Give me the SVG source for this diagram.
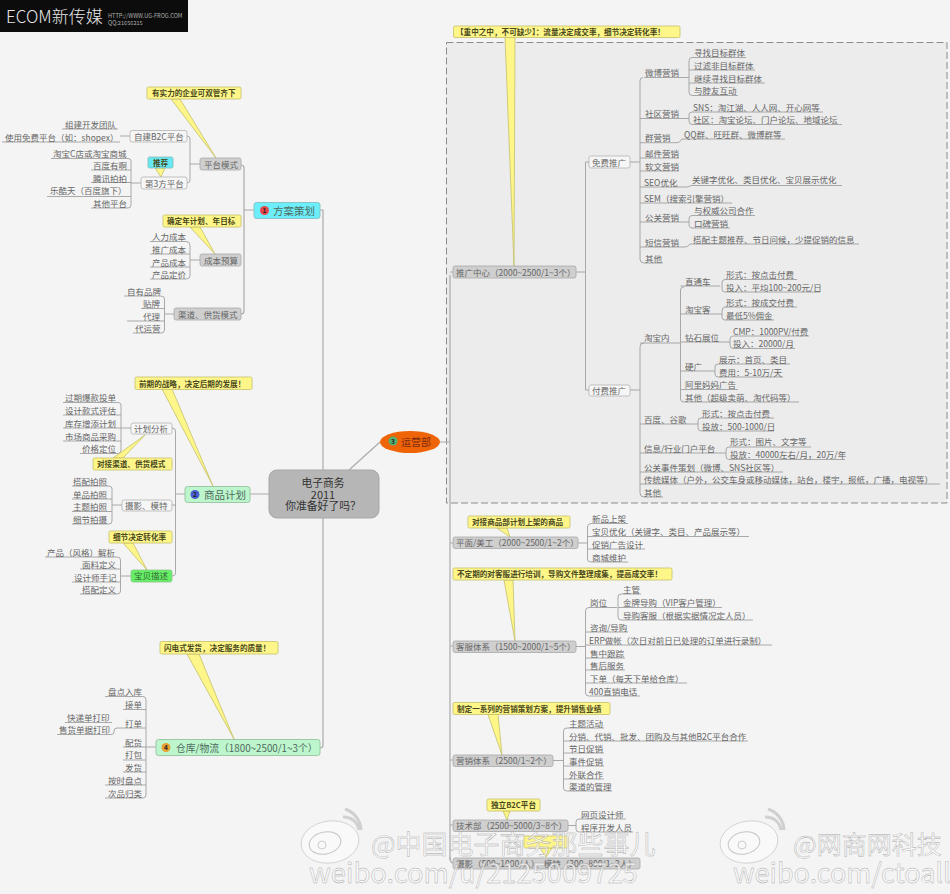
<svg xmlns="http://www.w3.org/2000/svg" width="950" height="894" viewBox="0 0 950 894">
<style>
text{font-family:"Noto Sans CJK SC","Liberation Sans",sans-serif;fill:#666;font-size:8.5px}
.c text,text.c{font-size:7.6px;font-weight:700;fill:#4a4a20}
.co{fill:#fff68a;stroke:#c4c06a;stroke-width:.8}
.g{fill:#cfcfcf;stroke:#a8a8a8;stroke-width:.8}
.w{fill:#f6f6f6;stroke:#b4b4b4;stroke-width:.8}
.t{font-size:10.5px;fill:#4f6a60}
#links path{fill:none;stroke:#a0a0a0;stroke-width:.9}
#links path.s{stroke:#aaa;stroke-width:1.2}
.wm{fill:#fafafa;fill-opacity:.7;stroke:#a8a8a8;stroke-width:.4;font-family:"Noto Sans CJK SC","Liberation Sans",sans-serif}
.lg{fill:#f9f9f9;stroke:#c4c4c4;stroke-width:.7}
.num{font-size:6.5px;font-weight:700;fill:#222;text-anchor:middle}
</style>
<rect width="950" height="894" fill="#f4f4f4"/>
<g id="banner"><rect width="188" height="32" fill="#0c0c0c"/>
<text x="6" y="23" style="font-size:17px;fill:#e8e8e8;font-weight:300">ECOM新传媒</text>
<text x="108" y="18" style="font-size:5.6px;fill:#b0b0b0">HTTP://WWW.UG-FROG.COM</text>
<text x="108" y="25" style="font-size:5.6px;fill:#b0b0b0">QQ:21656215</text></g>
<rect id="boundary" x="446.5" y="42.5" width="500.5" height="460.5" fill="#ececec" stroke="#8c8c8c" stroke-width="1" stroke-dasharray="7 3"/>
<g id="links">
<path class="s" d="M241 165Q244 165 244 168V311Q244 314 241 314M244 210H254"/>
<path class="s" d="M320 210H323V745Q323 748 320 748M250 494H269M349 470L380 442"/>
<path class="s" d="M440 442H450M450 275V860"/>
<path d="M120 136H130M187 136Q190 136 190 139V180Q190 183 187 183M190 164H200M131 183H141"/>
<path d="M62 129H118M2 142H120M51 158.500H128Q131 158.500 131 161V205Q131 208 128 208H91M91 170H131M91 182.500H131M47 196.500H131"/>
<path d="M190 260H200M150 241.500H186Q190 241.500 190 245V276Q190 279 186 279H150M150 254H190M150 267H190"/>
<path d="M164 314H174M124 296H161Q164.500 296 164.500 299V330Q164.500 333 161 333H133M141 308.500H164.500M127 321H164.500"/>
<path d="M175.500 494H185M172 428Q175.500 428 175.500 431V573Q175.500 576 172 576M172 505H175.500"/>
<path d="M121 428H131M63 402.500H118Q121 402.500 121 405V450Q121 453.500 118 453.500H80M63 415H121M63 428H121M63 441H121"/>
<path d="M112 505H122M72 486H109Q112 486 112 489V521Q112 524 109 524H72M72 499H112M72 511.500H112"/>
<path d="M120.500 576H131M45 557H117Q120.500 557 120.500 560V591Q120.500 594 117 594H80M80 569H120.500M72 582H120.500"/>
<path d="M146 747H156M105 696.500H143Q146 696.500 146 700V795Q146 798 143 798H105M123 709.500H146M123 728H146M123 747H146M123 760H146M123 772H146M105 785H146"/>
<path d="M65 722.500H112M57 734.500H111Q114 734.500 114 732V731Q114 728 117 728H123"/>
<path d="M576 272H585.500M589 162H585.500V390H589"/>
<path d="M630 162H640M630 390H640M644 77.500H689M643 77.500Q640 77.500 640 81V259Q640 263 644 263H663M640 118.500H689M640 142.700H677Q680 142.700 682 139H785M640 158H679M640 171H679M640 187H687Q689 187 691 185.500H842M640 203H732M640 222H689M640 247H685Q688 247 690 244H859"/>
<path d="M692 57.500H746M692 57.500Q689 57.500 689 61V92Q689 95.500 692 95.500H738M689 70H755M689 83H765M692 112Q689 112 689 115V121Q689 124.500 692 124.500H842M692 112H823M692 215.500Q689 215.500 689 219V225Q689 228 692 228H730M692 215.500H755"/>
<path d="M644 343Q640 343 640 347V493Q640 497 644 497H663M640 343H680M640 424H698M640 453H726M640 472H783M640 484H940"/>
<path d="M684 287Q680.500 287 680.500 290V399Q680.500 402 684 402H799M680.500 286H720M680.500 314H722M680.500 342H730M680.500 371H715M680.500 389.500H738"/>
<path d="M725 279.500H797M725 279.500Q722 279.500 722 283V289Q722 292 725 292H820M725 307H797M725 307Q722 307 722 311V317Q722 320 725 320H774M733 336H809M733 336Q730 336 730 339V345Q730 348.500 733 348.500H795M718 364H790M718 364Q715 364 715 367V374Q715 377 718 377H783M701 418H774M701 418Q698 418 698 421V428Q698 431 701 431H774M729 447H811M729 447Q726 447 726 450V456Q726 459.500 729 459.500H845"/>
<path d="M578 543H587.500M591 523.500H628M591 523.500Q587.500 523.500 587.500 527V559Q587.500 562 591 562H628M587.500 536.500H749M587.500 549H645"/>
<path d="M576 646.500H585.500M589 607.500H617M589 607.500Q585.500 607.500 585.500 611V693Q585.500 696 589 696H640M585.500 632H628M585.500 645H772M585.500 658H625M585.500 670H625M585.500 683H687"/>
<path d="M621 594H641M621 594Q618 594 618 597V617Q618 620 621 620H753M618 607.500H722"/>
<path d="M553 760.500H563.500M567 728H604M567 728Q563.500 728 563.500 731V788Q563.500 791 567 791H612M563.500 741H748M563.500 753H604M563.500 766H604M563.500 779H604"/>
<path d="M568 825.500H576M579 819H626M579 819Q576 819 576 822V829Q576 832 579 832H633"/>
<path class="s" d="M450 272H453M450 543H453M450 646H453M450 760H453M450 825H453M450 857Q450 863 453 863"/>
</g>
<g id="root"><rect x="269" y="470" width="110" height="48" rx="8" fill="#b6b6b6" stroke="#a6a6a6"/>
<text x="323" y="487" text-anchor="middle" style="font-size:10.800px;fill:#333">电子商务</text>
<text x="323" y="498.500" text-anchor="middle" style="font-size:11px;fill:#333">2011</text>
<text x="323" y="510" text-anchor="middle" style="font-size:10.800px;fill:#333">你准备好了吗？</text></g>
<g id="topic1"><rect x="254" y="202.500" width="66" height="16" rx="2.500" fill="#6ceffb" stroke="#88c4c8"/><circle cx="264.500" cy="210.500" r="4.500" fill="#e5484d"/><text class="num" x="264.500" y="213">1</text><text class="t" x="273" y="214.500">方案策划</text></g>
<g id="topic2"><rect x="185" y="486.500" width="65" height="16" rx="2.500" fill="#bdf6cc" stroke="#9cc8a6"/><circle cx="195" cy="494.500" r="4.500" fill="#4a5ed0"/><text class="num" x="195" y="497">2</text><text class="t" x="204" y="498.500">商品计划</text></g>
<g id="topic3"><ellipse cx="410" cy="442" rx="30" ry="11" fill="#f06408"/><circle cx="393" cy="441" r="4.500" fill="#52b070"/><text class="num" x="393" y="443.500">3</text><text x="401" y="446" style="font-size:10px;fill:#7a2a10">运营部</text></g>
<g id="topic4"><rect x="156" y="739.500" width="164" height="16" rx="2.500" fill="#bdf6cc" stroke="#9cc8a6"/><circle cx="166" cy="747.500" r="4.500" fill="#e8a030"/><text class="num" x="166" y="750">4</text><text class="t" x="176" y="751.500" style="font-size:9.800px">仓库/物流（1800~2500/1~3个）</text></g>

<g id="callout1"><path class="co" d="M171 99L216 158L180 99Z"/><rect class="co" x="147" y="87" width="94" height="12" rx="1.500"/><text class="c" x="152" y="96">有实力的企业可双管齐下</text></g>
<g id="callout2"><path class="co" d="M155 168L161 177L165 168Z"/><rect x="148" y="157" width="25" height="11" rx="1.500" fill="#66e9f2" stroke="#88b8b8" stroke-width=".8"/><text class="c" x="153" y="165.500">推荐</text></g>
<g id="callout3"><path class="co" d="M190 227L215 254L200 227Z"/><rect class="co" x="163" y="215" width="78" height="12" rx="1.500"/><text class="c" x="167" y="224">确定年计划、年目标</text></g>
<g id="callout4"><path class="co" d="M162 389L213 486L172 389Z"/><rect class="co" x="135" y="377" width="117" height="12.500" rx="1.500"/><text class="c" x="139" y="386.500">前期的战略，决定后期的发展！</text></g>
<g id="callout5"><path class="co" d="M113 458L145 435L123 458Z"/><rect class="co" x="93" y="458" width="79" height="12" rx="1.500"/><text class="c" x="97" y="467">对接渠道、供货模式</text></g>
<g id="callout6"><path class="co" d="M123 543L147 570L133 543Z"/><rect class="co" x="109" y="531" width="63" height="12" rx="1.500"/><text class="c" x="113" y="540">细节决定转化率</text></g>
<g id="callout7"><path class="co" d="M187 654L234 739L199 654Z"/><rect class="co" x="160" y="641.500" width="118" height="12.500" rx="1.500"/><text class="c" x="164" y="651">闪电式发货，决定服务的质量！</text></g>
<g id="callout8"><path class="co" d="M505 37L514 266L515 37Z"/><rect class="co" x="453.500" y="26" width="226.500" height="11.500" rx="1.500"/><text class="c" x="456" y="34.500">【重中之中，不可缺少】：流量决定成交率，细节决定转化率！</text></g>
<g id="callout9"><path class="co" d="M497 528L510 537L507 528Z"/><rect class="co" x="468" y="516" width="102" height="12" rx="1.500"/><text class="c" x="472" y="525">对接商品部计划上架的商品</text></g>
<g id="callout10"><path class="co" d="M504 580L515 641L513 580Z"/><rect class="co" x="453" y="568" width="219" height="12" rx="1.500"/><text class="c" x="457" y="577">不定期的对客服进行培训，导购文件整理成集，提高成交率！</text></g>
<g id="callout11"><path class="co" d="M488 714.500L502 755L498 714.500Z"/><rect class="co" x="453" y="702.500" width="157" height="12" rx="1.500"/><text class="c" x="457" y="711.500">制定一系列的营销策划方案，提升销售业绩</text></g>
<g id="callout12"><path class="co" d="M503 811L507 820L510 811Z"/><rect class="co" x="487" y="799" width="53" height="12" rx="1.500"/><text class="c" x="491" y="808">独立B2C平台</text></g>
<g id="callout13"><path class="co" d="M540 848L546 857L552 848Z"/><rect class="co" x="524" y="836" width="44" height="12" rx="1.500"/></g>

<g id="branches">
<g id="b1"><rect class="w" x="130" y="130.500" width="57" height="11.500" rx="2"/><text x="134" y="139.500">自建B2C平台</text></g>
<g id="b2"><rect class="g" x="200" y="158" width="41" height="12" rx="2"/><text x="204" y="167.500">平台模式</text></g>
<g id="b3"><rect class="w" x="141" y="177" width="46" height="12" rx="2"/><text x="145" y="186.500">第3方平台</text></g>
<g id="b4"><rect class="g" x="200" y="254" width="41" height="12" rx="2"/><text x="204" y="263.500">成本预算</text></g>
<g id="b5"><rect class="g" x="174" y="308" width="67" height="12" rx="2"/><text x="178" y="317.500">渠道、供货模式</text></g>
<g id="b6"><rect class="w" x="131" y="423" width="41" height="11" rx="2"/><text x="134" y="431.500">计划分析</text></g>
<g id="b7"><rect class="w" x="122" y="500" width="50" height="11" rx="2"/><text x="125" y="508.500">摄影、模特</text></g>
<g id="b8"><rect x="131" y="570" width="41" height="12" rx="2" fill="#66ee66" stroke="#88c888" stroke-width=".8"/><text x="134" y="579" style="fill:#336633">宝贝描述</text></g>
<g id="b9"><rect class="g" x="453" y="266" width="123" height="12" rx="2"/><text x="456" y="275.500">推广中心（2000~2500/1~3个）</text></g>
<g id="b10"><rect class="w" x="589" y="156" width="41" height="12" rx="2"/><text x="592" y="165.500">免费推广</text></g>
<g id="b11"><rect class="w" x="589" y="385" width="41" height="11" rx="2"/><text x="592" y="393.500">付费推广</text></g>
<g id="b12"><rect class="g" x="453" y="537" width="125" height="11.500" rx="2"/><text x="456" y="546">平面/美工（2000~2500/1~2个）</text></g>
<g id="b13"><rect class="g" x="453" y="641" width="123" height="11.500" rx="2"/><text x="456" y="650">客服体系（1500~2000/1~5个）</text></g>
<g id="b14"><rect class="g" x="453" y="755" width="100" height="11.500" rx="2"/><text x="456" y="764">营销体系（2500/1~2个）</text></g>
<g id="b15"><rect class="g" x="453" y="820" width="115" height="11.500" rx="2"/><text x="456" y="829">技术部（2500~5000/3~8个）</text></g>
<g id="b16"><rect class="g" x="453" y="858" width="187" height="11" rx="2"/><text x="456" y="867">摄影（500~1000/人）、模特（300~800/1~2人）</text></g>
</g>
<g id="leaves">
<g id="l1"><text x="65" y="128">组建开发团队</text></g>
<g id="l2"><text x="5" y="140.500">使用免费平台（如：shopex）</text></g>
<g id="l3"><text x="53" y="156.500">淘宝C店或淘宝商城</text></g>
<g id="l4"><text x="93" y="169">百度有啊</text></g>
<g id="l5"><text x="93" y="181.500">腾讯拍拍</text></g>
<g id="l6"><text x="50" y="194">乐酷天（百度旗下）</text></g>
<g id="l7"><text x="93" y="207">其他平台</text></g>
<g id="l8"><text x="152" y="240">人力成本</text></g>
<g id="l9"><text x="152" y="253">推广成本</text></g>
<g id="l10"><text x="152" y="266">产品成本</text></g>
<g id="l11"><text x="152" y="278">产品定价</text></g>
<g id="l12"><text x="127" y="295">自有品牌</text></g>
<g id="l13"><text x="143" y="307">贴牌</text></g>
<g id="l14"><text x="143" y="320">代理</text></g>
<g id="l15"><text x="135" y="332">代运营</text></g>
<g id="l16"><text x="65" y="401">过期爆款投单</text></g>
<g id="l17"><text x="65" y="414">设计款式评估</text></g>
<g id="l18"><text x="65" y="427">库存增添计划</text></g>
<g id="l19"><text x="65" y="439.500">市场商品采购</text></g>
<g id="l20"><text x="82" y="452">价格定位</text></g>
<g id="l21"><text x="73" y="485">搭配拍照</text></g>
<g id="l22"><text x="73" y="498">单品拍照</text></g>
<g id="l23"><text x="73" y="510">主题拍照</text></g>
<g id="l24"><text x="73" y="523">细节拍摄</text></g>
<g id="l25"><text x="47" y="556">产品（风格）解析</text></g>
<g id="l26"><text x="82" y="568">面料定义</text></g>
<g id="l27"><text x="74" y="581">设计师手记</text></g>
<g id="l28"><text x="82" y="593">搭配定义</text></g>
<g id="l29"><text x="108" y="695">盘点入库</text></g>
<g id="l30"><text x="125" y="708">接单</text></g>
<g id="l31"><text x="125" y="727">打单</text></g>
<g id="l32"><text x="125" y="746">配货</text></g>
<g id="l33"><text x="125" y="758">打包</text></g>
<g id="l34"><text x="125" y="771">发货</text></g>
<g id="l35"><text x="108" y="784">按时盘点</text></g>
<g id="l36"><text x="108" y="797">次品归类</text></g>
<g id="l37"><text x="67" y="721">快递单打印</text></g>
<g id="l38"><text x="59" y="733">售货单据打印</text></g>
<g id="l39"><text x="645" y="76">微博营销</text></g>
<g id="l40"><text x="645" y="117">社区营销</text></g>
<g id="l41"><text x="645" y="141">群营销</text></g>
<g id="l42"><text x="645" y="157">邮件营销</text></g>
<g id="l43"><text x="645" y="170">软文营销</text></g>
<g id="l44"><text x="644" y="186">SEO优化</text></g>
<g id="l45"><text x="644" y="202">SEM（搜索引擎营销）</text></g>
<g id="l46"><text x="645" y="221">公关营销</text></g>
<g id="l47"><text x="645" y="246">短信营销</text></g>
<g id="l48"><text x="645" y="262">其他</text></g>
<g id="l49"><text x="694" y="56">寻找目标群体</text></g>
<g id="l50"><text x="694" y="69">过滤非目标群体</text></g>
<g id="l51"><text x="694" y="82">继续寻找目标群体</text></g>
<g id="l52"><text x="694" y="94">与脖友互动</text></g>
<g id="l53"><text x="693" y="111">SNS：淘江湖、人人网、开心网等</text></g>
<g id="l54"><text x="693" y="123">社区：淘宝论坛、门户论坛、地域论坛</text></g>
<g id="l55"><text x="684" y="138">QQ群、旺旺群、微博群等</text></g>
<g id="l56"><text x="692" y="182.500">关键字优化、类目优化、宝贝展示优化</text></g>
<g id="l57"><text x="694" y="214">与权威公司合作</text></g>
<g id="l58"><text x="694" y="227">口碑营销</text></g>
<g id="l59"><text x="693" y="243">搭配主题推荐、节日问候，少提促销的信息</text></g>
<g id="l60"><text x="644" y="341">淘宝内</text></g>
<g id="l61"><text x="644" y="423">百度、谷歌</text></g>
<g id="l62"><text x="644" y="452">信息/行业门户平台</text></g>
<g id="l63"><text x="644" y="471">公关事件策划（微博、SNS社区等）</text></g>
<g id="l64"><text x="644" y="483">传统媒体（户外，公交车身或移动媒体，站台，楼宇，报纸，广播，电视等）</text></g>
<g id="l65"><text x="644" y="496">其他</text></g>
<g id="l66"><text x="685" y="285">直通车</text></g>
<g id="l67"><text x="685" y="313">淘宝客</text></g>
<g id="l68"><text x="685" y="341">钻石展位</text></g>
<g id="l69"><text x="685" y="370">硬广</text></g>
<g id="l70"><text x="685" y="388">阿里妈妈广告</text></g>
<g id="l71"><text x="685" y="401">其他（超级卖萌、淘代码等）</text></g>
<g id="l72"><text x="726" y="278">形式：按点击付费</text></g>
<g id="l73"><text x="726" y="291">投入：平均100~200元/日</text></g>
<g id="l74"><text x="726" y="306">形式：按成交付费</text></g>
<g id="l75"><text x="726" y="319">最低5%佣金</text></g>
<g id="l76"><text x="733" y="335">CMP：1000PV/付费</text></g>
<g id="l77"><text x="733" y="347">投入：20000/月</text></g>
<g id="l78"><text x="719" y="363">展示：首页、类目</text></g>
<g id="l79"><text x="719" y="376">费用：5-10万/天</text></g>
<g id="l80"><text x="702" y="417">形式：按点击付费</text></g>
<g id="l81"><text x="702" y="430">投放：500-1000/日</text></g>
<g id="l82"><text x="730" y="445">形式：图片、文字等</text></g>
<g id="l83"><text x="730" y="458">投放：40000左右/月，20万/年</text></g>
<g id="l84"><text x="592" y="522">新品上架</text></g>
<g id="l85"><text x="592" y="535">宝贝优化（关键字、类目、产品展示等）</text></g>
<g id="l86"><text x="592" y="548">促销广告设计</text></g>
<g id="l87"><text x="592" y="561">商城维护</text></g>
<g id="l88"><text x="590" y="606">岗位</text></g>
<g id="l89"><text x="590" y="631">咨询/导购</text></g>
<g id="l90"><text x="589" y="644">ERP做帐（次日对前日已处理的订单进行录制）</text></g>
<g id="l91"><text x="590" y="657">售中跟踪</text></g>
<g id="l92"><text x="590" y="669">售后服务</text></g>
<g id="l93"><text x="590" y="682">下单（每天下单给仓库）</text></g>
<g id="l94"><text x="589" y="695">400直销电话</text></g>
<g id="l95"><text x="623" y="593">主管</text></g>
<g id="l96"><text x="623" y="606">金牌导购（VIP客户管理）</text></g>
<g id="l97"><text x="623" y="619">导购客服（根据实据情况定人员）</text></g>
<g id="l98"><text x="569" y="727">主题活动</text></g>
<g id="l99"><text x="569" y="740">分销、代销、批发、团购及与其他B2C平台合作</text></g>
<g id="l100"><text x="569" y="752">节日促销</text></g>
<g id="l101"><text x="569" y="765">事件促销</text></g>
<g id="l102"><text x="569" y="778">外联合作</text></g>
<g id="l103"><text x="569" y="790">渠道的管理</text></g>
<g id="l104"><text x="581" y="818">网页设计师</text></g>
<g id="l105"><text x="581" y="831">程序开发人员</text></g>
</g>
<g id="watermarks">
<g id="wl1">
<ellipse class="lg" cx="330" cy="842" rx="29" ry="21" transform="rotate(-8 330 842)"/>
<ellipse cx="325" cy="843" rx="16" ry="11" fill="none" stroke="#c4c4c4" stroke-width="1" transform="rotate(-12 325 843)"/>
<circle cx="322" cy="845" r="4" fill="none" stroke="#bbb" stroke-width=".7"/>
<path d="M343 817A15 15 0 0 1 359 830M345 809A23 23 0 0 1 361 830" fill="none" stroke="#d0d0d0" stroke-width="3"/>
</g>
<g id="wl2">
<ellipse class="lg" cx="749" cy="842" rx="29" ry="21" transform="rotate(-8 749 842)"/>
<ellipse cx="744" cy="843" rx="16" ry="11" fill="none" stroke="#c4c4c4" stroke-width="1" transform="rotate(-12 744 843)"/>
<circle cx="742" cy="845" r="4" fill="none" stroke="#bbb" stroke-width=".7"/>
<path d="M765 817A15 15 0 0 1 781 830M768 809A23 23 0 0 1 784 830" fill="none" stroke="#d0d0d0" stroke-width="3"/>
</g>
<text class="wm" x="371" y="854" style="font-size:26px">@中国电子商务那些事儿</text>
<text class="wm" x="309" y="883" style="font-size:27.300px">weibo.com/u/2125009725</text>
<text class="wm" x="793" y="854" style="font-size:25px">@网商网科技</text>
<text class="wm" x="733" y="883" style="font-size:27px">weibo.com/ctoall</text>
</g>
</svg>
